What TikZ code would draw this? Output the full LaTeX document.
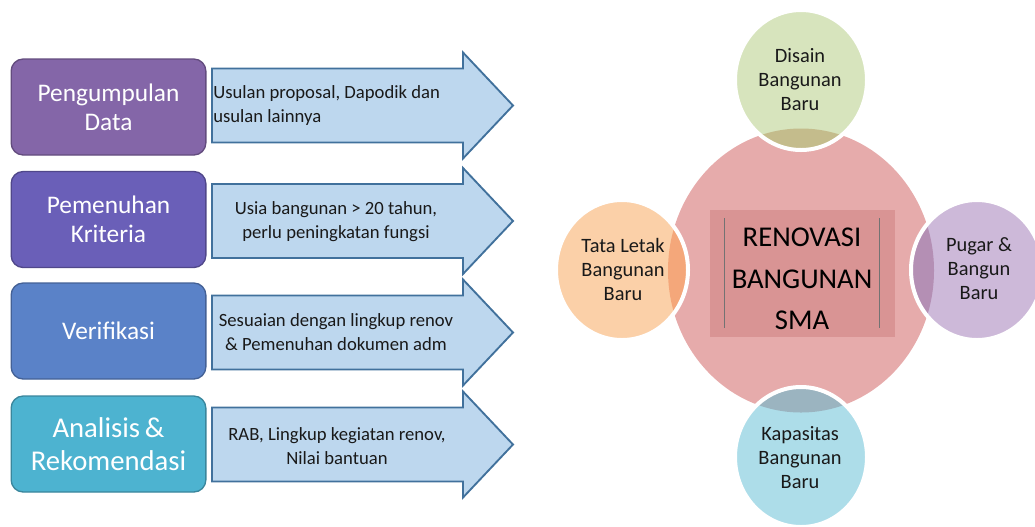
\documentclass[tikz,border=0pt]{standalone}
\usepackage{fontspec}
\setmainfont{Carlito}
\definecolor{boxA}{HTML}{8466A8}
\definecolor{boxB}{HTML}{6A5FB8}
\definecolor{boxC}{HTML}{5A82C8}
\definecolor{boxD}{HTML}{4DB3D0}
\definecolor{arrowfill}{HTML}{BDD7EE}
\definecolor{arrowline}{HTML}{41719C}
\definecolor{bigfill}{HTML}{E6ABAB}
\definecolor{rectfill}{HTML}{D99494}
\definecolor{topfill}{HTML}{D7E4BD}
\definecolor{toplens}{HTML}{C4BC8C}
\definecolor{leftfill}{HTML}{FBD0A8}
\definecolor{leftlens}{HTML}{F4A77A}
\definecolor{rightfill}{HTML}{CDB9D9}
\definecolor{rightlens}{HTML}{B48FB4}
\definecolor{botfill}{HTML}{ADDDE9}
\definecolor{botlens}{HTML}{9BB4C0}
\tikzset{
  stagebox/.style={draw=#1!75!black, fill=#1, line width=1pt, rounded corners=9pt,
    minimum width=146pt, minimum height=72pt, text=white, align=center,
    font=\fontsize{19}{22}\selectfont},
  infotext/.style={align=center, text=black!90, font=\fontsize{14}{18}\selectfont},
  ringtext/.style={align=center, text=black!90, font=\fontsize{15.3}{18}\selectfont},
}
\newcommand{\infoarrow}[1]{%
  \draw[fill=arrowfill, draw=arrowline, line width=1.4pt]
    (212,{#1-37}) -- (463,{#1-37}) -- (463,{#1-53}) -- (513,#1)
    -- (463,{#1+53}) -- (463,{#1+37}) -- (212,{#1+37}) -- cycle;}
\newcommand{\ringpart}[3]{%
  \fill[#2] (#1) ellipse [x radius=66, y radius=70];
  \begin{scope}
    \clip (core) ellipse [x radius=133, y radius=142];
    \fill[#3] (#1) ellipse [x radius=66, y radius=70];
  \end{scope}
  \draw[white, line width=3pt] (#1) ellipse [x radius=66, y radius=70];}
\begin{document}
\begin{tikzpicture}[x=0.75pt,y=-0.75pt]
  \useasboundingbox (0,0) rectangle (1035,526);
  % left column
  \node[stagebox=boxA] (pengumpulan) at (108.5,107) {Pengumpulan\\Data};
  \node[stagebox=boxB] (pemenuhan) at (108.5,219.5) {Pemenuhan\\Kriteria};
  \node[stagebox=boxC] (verifikasi) at (108.5,331) {Verifikasi};
  \node[stagebox=boxD, font=\fontsize{21.5}{25}\selectfont] (analisis) at (108.5,444) {Analisis\,\&\\Rekomendasi};
  \infoarrow{105.5}
  \infoarrow{221}
  \infoarrow{332.5}
  \infoarrow{444.5}
  \node[infotext, align=left, anchor=west, inner sep=0pt] (usulan) at (213,106) {Usulan proposal, Dapodik dan\\usulan lainnya};
  \node[infotext] (usia) at (336,222) {Usia bangunan > 20 tahun,\\perlu peningkatan fungsi};
  \node[infotext] (sesuaian) at (336,332) {Sesuaian dengan lingkup renov\\\& Pemenuhan dokumen adm};
  \node[infotext] (rab) at (337,446) {RAB, Lingkup kegiatan renov,\\Nilai bantuan};
  % right cluster
  \coordinate (core) at (801,270.5);
  \coordinate (C1) at (801,80);
  \coordinate (C2) at (622,270);
  \coordinate (C3) at (977,270);
  \coordinate (C4) at (801,457);
  \fill[bigfill] (core) ellipse [x radius=133, y radius=142];
  \fill[rectfill] (710,210) rectangle (895,337);
  \draw[black!55, line width=0.4pt] (724,218) -- (724,328);
  \draw[black!55, line width=0.4pt] (879,218) -- (879,328);
  \node[align=center, font=\fontsize{21.5}{31}\selectfont] (renovasi) at (802,279) {RENOVASI\\BANGUNAN\\SMA};
  \ringpart{C1}{topfill}{toplens}
  \ringpart{C2}{leftfill}{leftlens}
  \ringpart{C3}{rightfill}{rightlens}
  \ringpart{C4}{botfill}{botlens}
  \node[ringtext] (disain) at (800,80) {Disain\\Bangunan\\Baru};
  \node[ringtext] (tataletak) at (623,269) {Tata Letak\\Bangunan\\Baru};
  \node[ringtext] (pugar) at (979,269) {Pugar \&\\Bangun\\Baru};
  \node[ringtext] (kapasitas) at (800,458) {Kapasitas\\Bangunan\\Baru};
\end{tikzpicture}
\end{document}
